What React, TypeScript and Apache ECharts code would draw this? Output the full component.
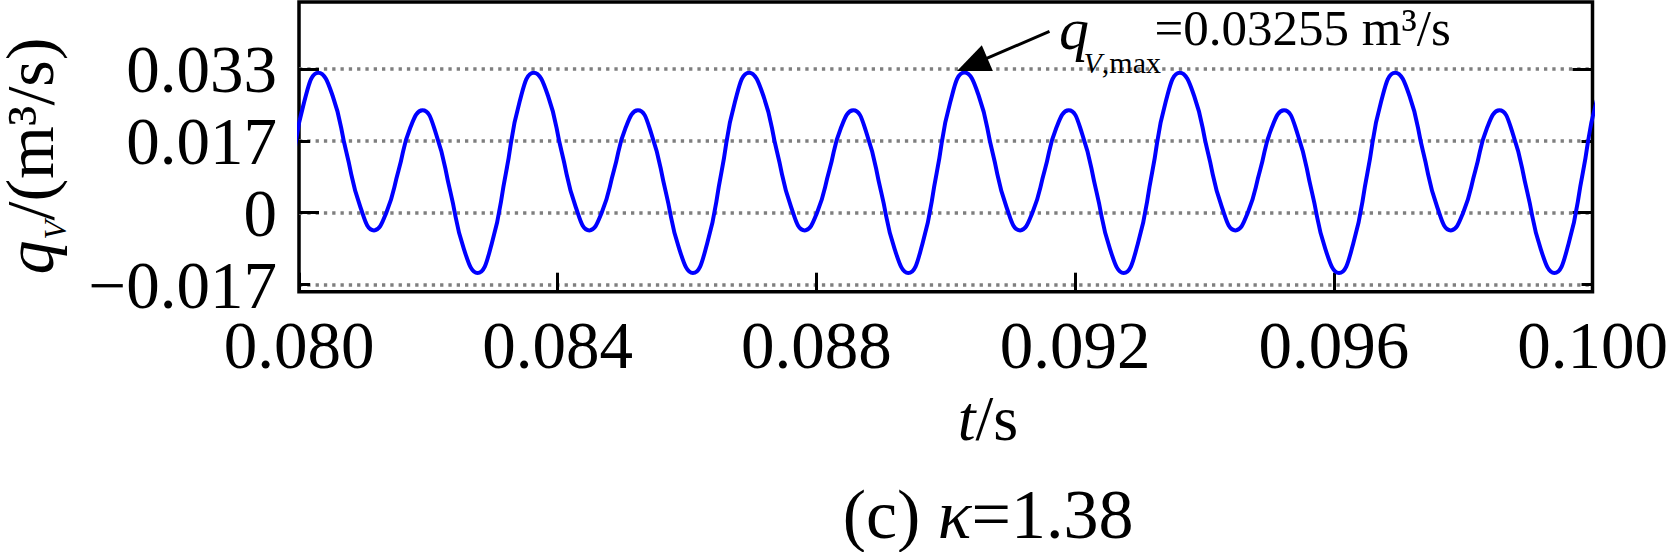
import React, { useEffect, useRef } from 'react';
import * as echarts from 'echarts';

// time (s) of each read point on the curve
const timeS = [
  0.07943, 0.07965, 0.07987, 0.08008,
  0.0803, 0.08052, 0.08073, 0.08095, 0.08116, 0.08135, 0.08154, 0.08172, 0.08191, 0.08212, 0.08234, 0.08255, 0.08276, 0.08298, 0.0832, 0.08341,
  0.08363, 0.08385, 0.08406, 0.08428, 0.08449, 0.08468, 0.08487, 0.08505, 0.08524, 0.08545, 0.08567, 0.08588, 0.08609, 0.08631, 0.08653, 0.08674,
  0.08696, 0.08718, 0.08739, 0.08761, 0.08782, 0.08801, 0.0882, 0.08838, 0.08857, 0.08878, 0.089, 0.08921, 0.08942, 0.08964, 0.08986, 0.09007,
  0.09029, 0.09051, 0.09072, 0.09094, 0.09115, 0.09134, 0.09153, 0.09171, 0.0919, 0.09211, 0.09233, 0.09254, 0.09275, 0.09297, 0.09319, 0.0934,
  0.09362, 0.09384, 0.09405, 0.09427, 0.09448, 0.09467, 0.09486, 0.09504, 0.09523, 0.09544, 0.09566, 0.09587, 0.09608, 0.0963, 0.09652, 0.09673,
  0.09695, 0.09717, 0.09738, 0.0976, 0.09781, 0.098, 0.09819, 0.09837, 0.09856, 0.09877, 0.09899, 0.0992, 0.09941, 0.09963, 0.09985, 0.10006,
  0.10028,
];

// volume flow rate q_V (m³/s) read at those times
const flowQ = [
  -0.014, -0.00719, 0.00925, 0.02569,
  0.0325, 0.02714, 0.0142, 0.00126, -0.0041, 0.0, 0.00985, 0.01971, 0.0238, 0.01826, 0.0049, -0.00846, -0.014, -0.00719, 0.00925, 0.02569,
  0.0325, 0.02714, 0.0142, 0.00126, -0.0041, 0.0, 0.00985, 0.01971, 0.0238, 0.01826, 0.0049, -0.00846, -0.014, -0.00719, 0.00925, 0.02569,
  0.0325, 0.02714, 0.0142, 0.00126, -0.0041, 0.0, 0.00985, 0.01971, 0.0238, 0.01826, 0.0049, -0.00846, -0.014, -0.00719, 0.00925, 0.02569,
  0.03255, 0.02714, 0.0142, 0.00126, -0.0041, 0.0, 0.00985, 0.01971, 0.0238, 0.01826, 0.0049, -0.00846, -0.014, -0.00719, 0.00925, 0.02569,
  0.0325, 0.02714, 0.0142, 0.00126, -0.0041, 0.0, 0.00985, 0.01971, 0.0238, 0.01826, 0.0049, -0.00846, -0.014, -0.00719, 0.00925, 0.02569,
  0.0325, 0.02714, 0.0142, 0.00126, -0.0041, 0.0, 0.00985, 0.01971, 0.0238, 0.01826, 0.0049, -0.00846, -0.014, -0.00719, 0.00925, 0.02569,
  0.0325,
];

const X_MIN = 0.08;
const X_MAX = 0.1;
const X_INTERVAL = 0.004;
const Y_MIN = -0.01833;
const Y_MAX = 0.0489;

const yLabelValues = [-0.016667, 0, 0.016667, 0.033333];
const yLabelTexts = ['\u22120.017', '0', '0.017', '0.033'];
const yMajorTicks = [0, 0.033333];
const yMinorTicks = [-0.016667, 0.016667];

const peakText = '=0.03255 m\u00b3/s';
const xTitle = '{i|t}{r|/s}';
const yTitle = '{i|q}{sub|V}{r|/(m\u00b3/s)}';
const caption = '{r|(c) }{i|\u03ba}{r|=1.38}';

const FONT = 'Liberation Serif';

export default function App() {
  const ref = useRef<HTMLDivElement>(null);

  useEffect(() => {
    const chart = echarts.init(ref.current!, null, { renderer: 'svg' });
    const lineData = timeS.map((t, i) => [t, flowQ[i]]);
    const tickLine = { color: '#000', width: 3 };
    const gridLine = { show: true, lineStyle: { color: '#7f7f7f', width: 3.5, type: [3.3, 5] } };
    const yBase = {
      type: 'value',
      min: Y_MIN,
      max: Y_MAX,
      axisLine: { show: false, onZero: false },
      axisLabel: { show: false },
      splitLine: { show: false },
      offset: 0,
    };

    chart.setOption({
      animation: false,
      grid: {
        left: 299,
        right: 79.5,
        top: 2,
        bottom: 260.3,
        show: true,
        borderColor: '#000',
        borderWidth: 3.5,
        backgroundColor: 'transparent',
      },
      xAxis: {
        type: 'value',
        min: X_MIN,
        max: X_MAX,
        interval: X_INTERVAL,
        position: 'bottom',
        axisLine: { show: false, onZero: false },
        axisTick: { show: true, inside: true, length: 19, lineStyle: tickLine },
        axisLabel: {
          formatter: (v: number) => v.toFixed(3),
          fontSize: 67,
          fontFamily: FONT,
          color: '#000',
          margin: 20,
        },
        splitLine: { show: false },
      },
      yAxis: [
        {
          ...yBase,
          position: 'left',
          axisTick: { show: true, inside: true, length: 20, customValues: yMajorTicks, lineStyle: tickLine },
          axisLabel: {
            show: true,
            customValues: yLabelValues,
            formatter: (v: number) => {
              const i = yLabelValues.findIndex((u) => Math.abs(u - v) < 1e-6);
              return i >= 0 ? yLabelTexts[i] : '';
            },
            fontSize: 67,
            fontFamily: FONT,
            color: '#000',
            margin: 22,
          },
          splitLine: gridLine,
        },
        {
          ...yBase,
          position: 'left',
          axisTick: { show: true, inside: true, length: 11, customValues: yMinorTicks, lineStyle: tickLine },
          splitLine: gridLine,
        },
        {
          ...yBase,
          position: 'right',
          axisTick: { show: true, inside: true, length: 20, customValues: yMajorTicks, lineStyle: tickLine },
        },
        {
          ...yBase,
          position: 'right',
          axisTick: { show: true, inside: true, length: 11, customValues: yMinorTicks, lineStyle: tickLine },
        },
      ],
      series: [
        {
          type: 'line',
          xAxisIndex: 0,
          yAxisIndex: 0,
          data: lineData,
          showSymbol: false,
          smooth: 0.5,
          clip: true,
          lineStyle: { color: '#0000ff', width: 4 },
          itemStyle: { color: '#0000ff' },
          z: 3,
        },
      ],
    });

    // annotation anchored on the largest peak of the series
    const peakIdx = flowQ.indexOf(Math.max(...flowQ));
    const [px, py] = chart.convertToPixel({ seriesIndex: 0 }, [timeS[peakIdx], flowQ[peakIdx]]) as number[];
    const tip = [px - 7.5, py - 1.4];
    const tail = [px + 85, py - 41];
    const dx = tail[0] - tip[0];
    const dy = tail[1] - tip[1];
    const len = Math.sqrt(dx * dx + dy * dy);
    const ux = dx / len;
    const uy = dy / len;
    const nx = -uy;
    const ny = ux;
    const headLen = 33;
    const headHalf = 14;
    const base = [tip[0] + ux * headLen, tip[1] + uy * headLen];

    chart.setOption({
      graphic: [
        {
          type: 'line',
          shape: { x1: base[0] - ux * 2, y1: base[1] - uy * 2, x2: tail[0], y2: tail[1] },
          style: { stroke: '#000', lineWidth: 3 },
          z: 10,
        },
        {
          type: 'polygon',
          shape: {
            points: [
              tip,
              [base[0] + nx * headHalf, base[1] + ny * headHalf],
              [base[0] - nx * headHalf, base[1] - ny * headHalf],
            ],
          },
          style: { fill: '#000' },
          z: 10,
        },
        {
          type: 'text',
          x: px + 94.5,
          y: py - 43.5,
          style: {
            text: 'q',
            fontSize: 60,
            lineHeight: 30,
            fontStyle: 'italic',
            fontFamily: FONT,
            fill: '#000',
            align: 'left',
            verticalAlign: 'middle',
          },
          z: 10,
        },
        {
          type: 'text',
          x: px + 119,
          y: py - 9.5,
          style: {
            text: '{i|V}{r|,max}',
            rich: {
              i: { fontSize: 30, fontStyle: 'italic', fontFamily: FONT, fill: '#000' },
              r: { fontSize: 30, fontFamily: FONT, fill: '#000' },
            },
            align: 'left',
            verticalAlign: 'middle',
          },
          z: 10,
        },
        {
          type: 'text',
          x: px + 190,
          y: py - 44.8,
          style: {
            text: peakText,
            fontSize: 51,
            lineHeight: 40,
            fontFamily: FONT,
            fill: '#000',
            align: 'left',
            verticalAlign: 'middle',
          },
          z: 10,
        },
        {
          type: 'text',
          x: 30,
          y: 156,
          rotation: Math.PI / 2,
          style: {
            text: yTitle,
            rich: {
              i: { fontSize: 68, fontStyle: 'italic', fontFamily: FONT, fill: '#000', lineHeight: 50 },
              sub: { fontSize: 31, fontStyle: 'italic', fontFamily: FONT, fill: '#000', padding: [50, 0, 0, 1] },
              r: { fontSize: 68, fontFamily: FONT, fill: '#000', lineHeight: 50 },
            },
            align: 'center',
            verticalAlign: 'middle',
          },
        },
        {
          type: 'text',
          x: 988,
          y: 418,
          style: {
            text: xTitle,
            rich: {
              i: { fontSize: 64, fontStyle: 'italic', fontFamily: FONT, fill: '#000' },
              r: { fontSize: 64, fontFamily: FONT, fill: '#000' },
            },
            align: 'center',
            verticalAlign: 'middle',
          },
        },
        {
          type: 'text',
          x: 988,
          y: 514,
          style: {
            text: caption,
            rich: {
              i: { fontSize: 70, fontStyle: 'italic', fontFamily: FONT, fill: '#000', lineHeight: 60 },
              r: { fontSize: 70, fontFamily: FONT, fill: '#000', lineHeight: 60 },
            },
            align: 'center',
            verticalAlign: 'middle',
          },
        },
      ],
    });

    return () => {
      chart.dispose();
    };
  }, []);

  return (
    <div
      ref={ref}
      style={{ position: 'absolute', left: 0, top: 0, width: 1672, height: 552, background: '#fff' }}
    />
  );
}
